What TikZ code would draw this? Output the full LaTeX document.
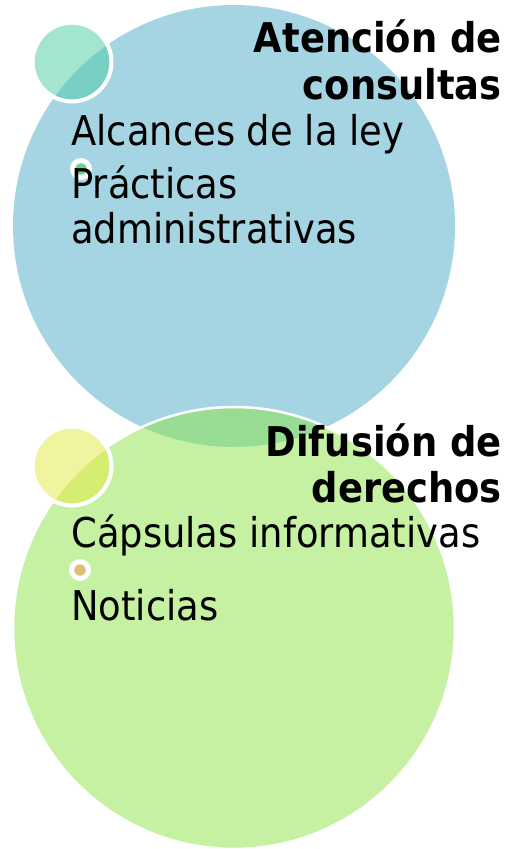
\documentclass[tikz,border=0pt]{standalone}
\usepackage{fontspec}
\setmainfont{DejaVu Sans}
\newfontfamily\tahfont[FakeStretch=0.9]{DejaVu Sans}
\definecolor{bigblue}{RGB}{165,213,226}
\definecolor{biggreen}{RGB}{143,229,73}
\definecolor{mint}{RGB}{75,205,165}
\definecolor{lemon}{RGB}{229,235,65}
\definecolor{dotgreen}{RGB}{110,210,140}
\definecolor{dottan}{RGB}{220,192,122}
\begin{document}
\begin{tikzpicture}[x=0.75pt,y=-0.75pt,
  titletext/.style={anchor=base east, inner sep=0pt, text=black,
    font=\tahfont\bfseries\fontsize{30.75pt}{34pt}\selectfont},
  itemtext/.style={anchor=base west, inner sep=0pt, text=black,
    font=\tahfont\fontsize{30.75pt}{34pt}\selectfont},
  halfop/.style={fill opacity=0.5},
  smallring/.style={draw=white, line width=3pt},
  bigring/.style={draw=white, line width=1.9pt},
  bulletring/.style={fill=white}
]
\fill[white] (0,0) rectangle (508,849);
\useasboundingbox (0,0) rectangle (508,849);

% big circles
\fill[bigblue] (234,226) circle[radius=165.75pt];
% small mint circle
\fill[mint, halfop] (72,62) circle[radius=28.1pt];
\draw[smallring] (72,62) circle[radius=29.6pt];

\fill[biggreen, halfop] (234,628) circle[radius=165.75pt];
\draw[bigring] (234,628) circle[radius=165.75pt];
% small yellow circle
\fill[lemon, halfop] (72,466) circle[radius=28.1pt];
\draw[smallring] (72,466) circle[radius=29.6pt];

% bullets
\fill[bulletring] (81,169) circle[radius=8.25pt];
\fill[dotgreen] (81,169) circle[radius=4.3pt];
\fill[bulletring] (80,570) circle[radius=8.25pt];
\fill[dottan] (80,570) circle[radius=4.3pt];

% titles
\node[titletext] (t1a) at (502,53) {Atención de};
\node[titletext] (t1b) at (502,99) {consultas};
\node[titletext] (t2a) at (502,456) {Difusión de};
\node[titletext] (t2b) at (502,502) {derechos};

% items
\node[itemtext] (i1) at (71,145) {Alcances de la ley};
\node[itemtext] (i2a) at (71,198) {Prácticas};
\node[itemtext] (i2b) at (71,243) {administrativas};
\node[itemtext] (i3) at (71,547) {Cápsulas informativas};
\node[itemtext] (i4) at (71,620) {Noticias};
\end{tikzpicture}
\end{document}
